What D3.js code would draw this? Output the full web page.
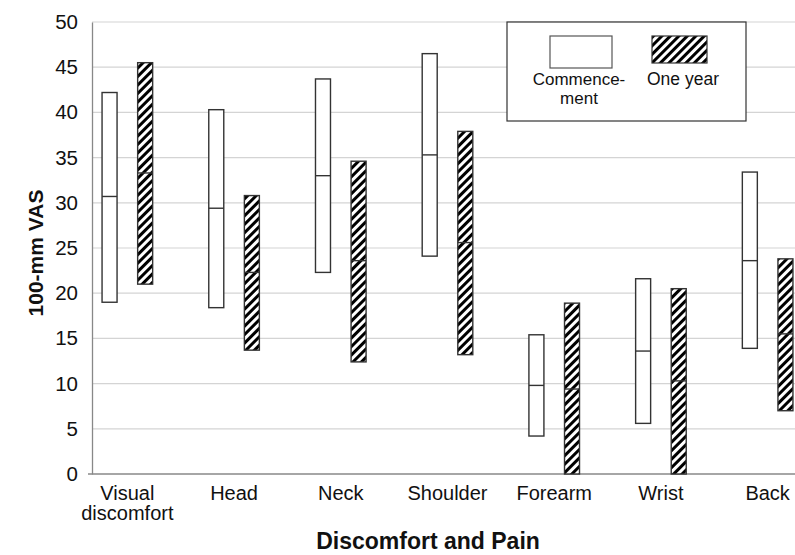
<!DOCTYPE html>
<html>
<head>
<meta charset="utf-8">
<script src="https://cdn.jsdelivr.net/npm/d3@7/dist/d3.min.js"></script>
<style>
  html, body { margin: 0; padding: 0; background: #fff; }
  svg { display: block; font-family: "Liberation Sans", Arial, sans-serif; }
</style>
</head>
<body>
<svg id="chart" width="795" height="555"></svg>
<script>
const categories = ["Visual discomfort", "Head", "Neck", "Shoulder", "Forearm", "Wrist", "Back"];
const commenceHigh = [42.2, 40.3, 43.7, 46.5, 15.4, 21.6, 33.4];
const commenceMid  = [30.7, 29.4, 33.0, 35.3, 9.8, 13.6, 23.6];
const commenceLow  = [19.0, 18.4, 22.3, 24.1, 4.2, 5.6, 13.9];
const yearHigh = [45.5, 30.8, 34.6, 37.9, 18.9, 20.5, 23.8];
const yearMid  = [33.3, 22.3, 23.6, 25.6, 9.4, 10.3, 15.5];
const yearLow  = [21.0, 13.7, 12.4, 13.2, 0, 0, 7.0];
const yTicks = [0, 5, 10, 15, 20, 25, 30, 35, 40, 45, 50];
const seriesNames = ["Commence-\nment", "One year"];

(function () {
const svg = d3.select("#chart");
const mLeft = 92, mTop = 22, mBottom = 474, mRight = 795;

// pattern
const defs = svg.append("defs");
const pat = defs.append("pattern").attr("id", "hatch")
  .attr("patternUnits", "userSpaceOnUse").attr("width", 6).attr("height", 6)
  .attr("patternTransform", "rotate(45)");
pat.append("rect").attr("width", 6).attr("height", 6).attr("fill", "#fff");
pat.append("line").attr("x1", 1.5).attr("y1", 0).attr("x2", 1.5).attr("y2", 6)
  .attr("stroke", "#000").attr("stroke-width", 3);

const y = d3.scaleLinear().domain([0, 50]).range([mBottom, mTop]);
const x = d3.scaleBand().domain(categories).range([74, 821]);
const barW = 15, off = 17.8;

// gridlines
svg.append("g").selectAll("line").data(yTicks.filter(t => t > 0)).join("line")
  .attr("x1", mLeft).attr("x2", mRight)
  .attr("y1", d => y(d)).attr("y2", d => y(d))
  .attr("stroke", "#d4d4d4").attr("stroke-width", 1.2);

// y axis
const yAxis = svg.append("g").attr("transform", `translate(${mLeft},0)`)
  .call(d3.axisLeft(y).tickValues(yTicks).tickSize(0).tickPadding(14));
yAxis.select(".domain").attr("stroke", "#888").attr("stroke-width", 1.3);
yAxis.selectAll("text").attr("font-size", 20.5).attr("fill", "#111")
  .attr("font-family", "Liberation Sans, Arial, sans-serif");

// x axis line
svg.append("line").attr("x1", mLeft - 4).attr("x2", mRight)
  .attr("y1", mBottom).attr("y2", mBottom)
  .attr("stroke", "#888").attr("stroke-width", 1.5);

// bars
function drawSeries(hi, mid, lo, dx, fill) {
  const g = svg.append("g");
  categories.forEach((c, i) => {
    const cx = x(c) + x.bandwidth() / 2 + dx;
    g.append("rect").attr("x", cx - barW / 2).attr("y", y(hi[i]))
      .attr("width", barW).attr("height", y(lo[i]) - y(hi[i]))
      .attr("fill", fill).attr("stroke", "#333").attr("stroke-width", 1.4);
    g.append("line").attr("x1", cx - barW / 2).attr("x2", cx + barW / 2)
      .attr("y1", y(mid[i])).attr("y2", y(mid[i]))
      .attr("stroke", "#333").attr("stroke-width", 1.4);
  });
}
drawSeries(commenceHigh, commenceMid, commenceLow, -off, "#fff");
drawSeries(yearHigh, yearMid, yearLow, off, "url(#hatch)");

// category labels
const labG = svg.append("g").attr("font-size", 20).attr("fill", "#111").attr("text-anchor", "middle");
categories.forEach(c => {
  const cx = x(c) + x.bandwidth() / 2;
  const words = c === "Visual discomfort" ? ["Visual", "discomfort"] : [c];
  words.forEach((w, j) => {
    labG.append("text").attr("x", cx).attr("y", 500 + j * 20).text(w);
  });
});

// axis titles
svg.append("text").attr("x", 428).attr("y", 549).attr("text-anchor", "middle")
  .attr("font-size", 23).attr("font-weight", "bold").attr("fill", "#111")
  .text("Discomfort and Pain");
svg.append("text").attr("transform", "translate(43,253) rotate(-90)")
  .attr("text-anchor", "middle").attr("font-size", 21).attr("font-weight", "bold")
  .attr("fill", "#111").text("100-mm VAS");

// legend
const lg = svg.append("g");
lg.append("rect").attr("x", 507).attr("y", 22).attr("width", 239).attr("height", 99)
  .attr("fill", "#fff").attr("stroke", "#333").attr("stroke-width", 1.2);
lg.append("rect").attr("x", 550).attr("y", 36).attr("width", 62).attr("height", 32)
  .attr("fill", "#fff").attr("stroke", "#555").attr("stroke-width", 1.2);
lg.append("rect").attr("x", 652).attr("y", 36).attr("width", 55).attr("height", 27)
  .attr("fill", "url(#hatch)").attr("stroke", "#333").attr("stroke-width", 1.2);
const names0 = seriesNames[0].split("\n");
names0.forEach((t, j) => {
  lg.append("text").attr("x", 579).attr("y", 85 + j * 18.5).attr("text-anchor", "middle")
    .attr("font-size", 17).attr("fill", "#111").text(t);
});
lg.append("text").attr("x", 683).attr("y", 85).attr("text-anchor", "middle")
  .attr("font-size", 17.5).attr("fill", "#111").text(seriesNames[1]);
})();
</script>
</body>
</html>
